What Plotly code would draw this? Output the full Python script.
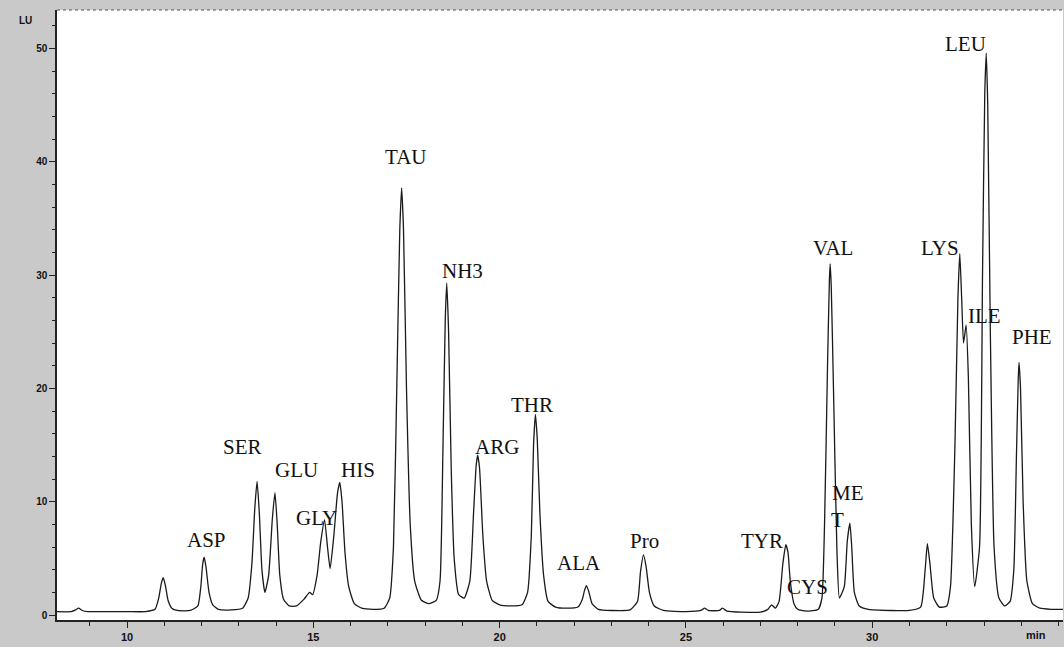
import plotly.graph_objects as go

# Chromatogram trace (time in min, signal in LU)
time_min = [8.12, 8.5, 8.62, 8.7, 8.8, 8.95, 9.5, 10.0, 10.5, 10.75,
            10.85, 10.92, 10.97, 11.03, 11.1, 11.2, 11.35, 11.7, 11.9,
            11.98, 12.03, 12.07, 12.12, 12.2, 12.3, 12.45, 12.8, 13.1, 13.25,
            13.35, 13.43, 13.49, 13.55, 13.62, 13.7,
            13.8, 13.9, 13.97, 14.03, 14.1, 14.2, 14.35, 14.55, 14.75, 14.9, 14.98,
            15.1, 15.2, 15.3, 15.38, 15.45,
            15.55, 15.65, 15.71, 15.77, 15.85, 15.95, 16.1, 16.3, 16.6, 16.9, 17.05,
            17.15, 17.25, 17.32, 17.37, 17.42, 17.5, 17.6, 17.72, 17.9, 18.1, 18.3, 18.4,
            18.48, 18.54, 18.58, 18.63, 18.7, 18.78, 18.9, 19.05, 19.2,
            19.3, 19.37, 19.41, 19.46, 19.55, 19.65, 19.8, 20.0, 20.3, 20.6, 20.75,
            20.85, 20.91, 20.96, 21.01, 21.08, 21.18, 21.3, 21.5, 21.8, 22.1, 22.22,
            22.28, 22.33, 22.39, 22.48, 22.65, 23.0, 23.5, 23.7,
            23.78, 23.86, 23.93, 24.02, 24.15, 24.4, 25.0, 25.4, 25.5, 25.6, 25.9, 25.98,
            26.1, 26.5, 27.0, 27.2, 27.3, 27.4, 27.5,
            27.6, 27.68, 27.74, 27.8, 27.9, 28.0, 28.1, 28.3, 28.55, 28.65,
            28.72, 28.8, 28.85, 28.87, 28.9, 28.96, 29.05, 29.12,
            29.25, 29.33, 29.4, 29.45, 29.52, 29.65, 29.9, 30.5, 31.0, 31.3,
            31.42, 31.48, 31.55, 31.65, 31.8, 32.0, 32.1,
            32.22, 32.3, 32.35, 32.4, 32.45, 32.52, 32.58, 32.66, 32.75,
            32.88, 32.96, 33.02, 33.06, 33.1, 33.17, 33.27, 33.4, 33.55, 33.7, 33.8,
            33.87, 33.92, 33.94, 33.98, 34.05, 34.15, 34.3, 34.5, 34.8, 35.12]
signal_lu = [0.3, 0.3, 0.45, 0.6, 0.4, 0.3, 0.3, 0.3, 0.3, 0.5,
             1.5, 2.8, 3.3, 2.6, 1.3, 0.6, 0.4, 0.4, 0.8,
             2.5, 4.5, 5.1, 4.2, 2.0, 0.9, 0.5, 0.45, 0.6, 1.5,
             4.5, 9.5, 11.8, 9.0, 4.0, 2.0,
             3.5, 8.5, 10.8, 8.0, 3.5, 1.4, 0.8, 0.8, 1.4, 2.0, 1.8,
             3.5, 6.5, 8.4, 6.0, 4.1,
             7.0, 10.8, 11.7, 10.0, 5.5, 2.5, 1.0, 0.6, 0.5, 0.6, 1.5,
             6.0, 22.0, 34.0, 37.7, 34.0, 20.0, 8.0, 3.0, 1.3, 1.0, 1.3, 3.0,
             15.0, 26.0, 29.3, 25.0, 13.0, 5.0, 1.8, 1.5, 3.0,
             9.0, 13.2, 14.1, 13.0, 7.0, 3.0, 1.3, 0.9, 0.8, 0.9, 2.0,
             7.0, 15.0, 17.7, 15.5, 9.0, 3.5, 1.2, 0.7, 0.6, 0.7, 1.4,
             2.2, 2.6, 2.1, 1.0, 0.5, 0.4, 0.45, 1.2,
             3.8, 5.3, 4.3, 2.0, 0.8, 0.4, 0.3, 0.4, 0.6, 0.4, 0.4, 0.6,
             0.35, 0.25, 0.25, 0.5, 0.9, 0.6, 1.2,
             4.5, 6.2, 5.5, 3.0, 1.0, 0.5, 0.4, 0.35, 0.5, 1.5,
             8.0, 22.0, 29.5, 31.0, 29.0, 20.0, 6.0, 1.5,
             2.5, 6.5, 8.1, 6.0, 2.0, 0.8, 0.5, 0.4, 0.4, 0.7,
             4.0, 6.3, 4.5, 1.5, 0.7, 0.8, 2.5,
             15.0, 28.0, 31.9, 28.0, 24.0, 25.6, 21.0, 8.0, 2.5,
             6.0, 30.0, 46.0, 49.6, 45.0, 25.0, 6.0, 1.5, 0.8, 1.2, 4.0,
             14.0, 21.0, 22.3, 20.0, 10.0, 3.0, 1.0, 0.6, 0.5, 0.5]

# Peak labels (text, time, signal)
peak_names = ["ASP", "SER", "GLU", "GLY", "HIS", "TAU", "NH3", "ARG", "THR", "ALA",
              "Pro", "TYR", "CYS", "VAL", "ME", "T", "LYS", "ILE", "LEU", "PHE"]
label_t = [12.12, 13.11, 14.56, 15.09, 16.19, 17.48, 19.01, 19.92, 20.86, 22.14,
           23.89, 27.05, 28.26, 28.95, 29.36, 29.08, 31.82, 33.0, 32.49, 34.29]
label_v = [6.6, 14.8, 12.8, 8.6, 12.8, 40.4, 30.4, 14.8, 18.5, 4.6,
           6.5, 6.5, 2.5, 32.4, 10.8, 8.4, 32.4, 26.4, 50.4, 24.5]

x_ticks = [10, 15, 20, 25, 30]
y_ticks = [0, 10, 20, 30, 40, 50]

fig = go.Figure()
fig.add_trace(go.Scatter(x=time_min, y=signal_lu, mode="lines",
                         line=dict(color="#1a1a1a", width=1.3, shape="spline", smoothing=0.5),
                         hoverinfo="skip", showlegend=False))

for name, t, v in zip(peak_names, label_t, label_v):
    fig.add_annotation(x=t, y=v, text=name, showarrow=False, xref="x", yref="y",
                       font=dict(family="Liberation Serif", size=21, color="#111111"))

fig.add_annotation(xref="x domain", yref="y domain", x=-0.04, y=0.995, text="LU", showarrow=False,
                   font=dict(family="Liberation Sans", size=10, color="#111", weight="bold"))
fig.add_annotation(xref="x domain", yref="y domain", x=0.985, y=-0.024, yanchor="middle",
                   text="min", showarrow=False,
                   font=dict(family="Liberation Sans", size=11, color="#111", weight="bold"))

fig.add_shape(type="line", xref="paper", yref="paper", x0=0, x1=1, y0=1, y1=1,
              line=dict(color="#555555", width=1, dash="dot"))

fig.update_layout(
    width=1064, height=647,
    margin=dict(l=57, r=1, t=10, b=27),
    paper_bgcolor="#c9c9c9",
    plot_bgcolor="#ffffff",
    xaxis=dict(range=[8.12, 35.12], tickvals=x_ticks, ticktext=[str(v) for v in x_ticks],
               showgrid=False, zeroline=False, showline=True, linecolor="#222", linewidth=1.5,
               ticks="outside", ticklen=6, tickcolor="#222",
               minor=dict(dtick=1, ticks="outside", ticklen=4, tickcolor="#222"),
               tickfont=dict(family="Liberation Sans", size=11, color="#111", weight="bold")),
    yaxis=dict(range=[-0.44, 53.4], tickvals=y_ticks, ticktext=[str(v) for v in y_ticks],
               showgrid=False, zeroline=False, showline=True, linecolor="#222", linewidth=1.5,
               ticks="outside", ticklen=6, tickcolor="#222",
               minor=dict(dtick=2, ticks="outside", ticklen=3, tickcolor="#222"),
               tickfont=dict(family="Liberation Sans", size=10, color="#111", weight="bold")),
)

fig.write_html("out.html")
